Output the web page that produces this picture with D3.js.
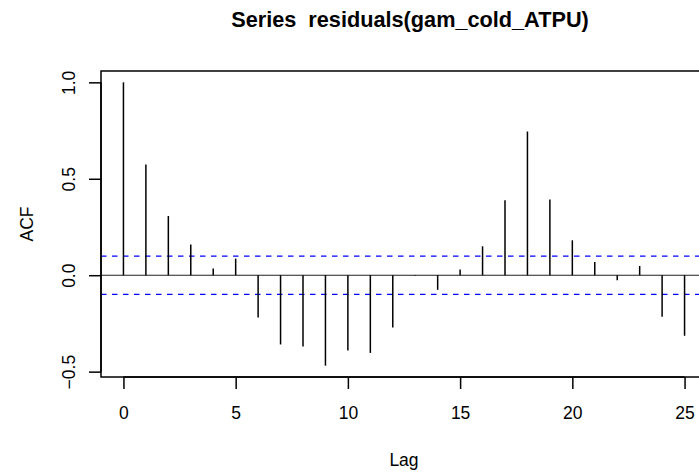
<!DOCTYPE html>
<html>
<head>
<meta charset="utf-8">
<script src="https://cdn.jsdelivr.net/npm/d3@7"></script>
<style>
  html, body { margin: 0; padding: 0; background: #fff; overflow: hidden; }
  svg { display: block; }
  text { font-family: "Liberation Sans", Arial, Helvetica, sans-serif; fill: #000; white-space: pre; }
</style>
</head>
<body>
<svg id="chart" width="699" height="475"></svg>
<script>
// ---- data ----
const lags = [0,1,2,3,4,5,6,7,8,9,10,11,12,13,14,15,16,17,18,19,20,21,22,23,24,25];
const acfValues = [1.000, 0.574, 0.307, 0.159, 0.035, 0.086, -0.219, -0.359, -0.369, -0.469,
                   -0.391, -0.403, -0.271, -0.003, -0.076, 0.029, 0.150, 0.388, 0.745, 0.393,
                   0.181, 0.069, -0.026, 0.048, -0.216, -0.314];
const ciBound = 0.099;
const xTicks = [0, 5, 10, 15, 20, 25];
const yTicks = [-0.5, 0.0, 0.5, 1.0];
const yTickLabels = ["\u22120.5", "0.0", "0.5", "1.0"];
const titleText = "Series  residuals(gam_cold_ATPU)";
const xLabel = "Lag";
const yLabel = "ACF";

// ---- layout ----
const plot = { left: 101, top: 71, right: 707, bottom: 377 };
const svg = d3.select("#chart");

const xMin = d3.min(lags), xMax = d3.max(lags);
const xPad = (xMax - xMin) * 0.04;
const x = d3.scaleLinear().domain([xMin - xPad, xMax + xPad]).range([plot.left, plot.right]);

const yLo = Math.min(d3.min(acfValues), -ciBound), yHi = Math.max(d3.max(acfValues), ciBound);
const yPad = (yHi - yLo) * 0.04;
const y = d3.scaleLinear().domain([yLo - yPad, yHi + yPad]).range([plot.bottom, plot.top]);

const fs = 17.5;

// zero line
svg.append("line")
  .attr("x1", plot.left).attr("x2", plot.right)
  .attr("y1", y(0)).attr("y2", y(0))
  .attr("stroke", "#222").attr("stroke-width", 1.1);

// confidence lines
[ciBound, -ciBound].forEach(v => {
  svg.append("line")
    .attr("x1", plot.left).attr("x2", plot.right)
    .attr("y1", y(v)).attr("y2", y(v))
    .attr("stroke", "#0000ff").attr("stroke-width", 1.3)
    .attr("stroke-dasharray", "5.5,5.5");
});

// spikes
svg.append("g").selectAll("line").data(lags).join("line")
  .attr("x1", d => x(d)).attr("x2", d => x(d))
  .attr("y1", y(0)).attr("y2", (d, i) => y(acfValues[i]))
  .attr("stroke", "#000").attr("stroke-width", 1.5);

// box
svg.append("rect")
  .attr("x", plot.left).attr("y", plot.top)
  .attr("width", plot.right - plot.left).attr("height", plot.bottom - plot.top)
  .attr("fill", "none").attr("stroke", "#000").attr("stroke-width", 1.5);

// x axis
const xAxis = d3.axisBottom(x).tickValues(xTicks).tickSize(12).tickPadding(6).tickFormat(d3.format("d"));
const gx = svg.append("g").attr("transform", `translate(0,${plot.bottom})`).call(xAxis);
gx.select(".domain").attr("d", `M${x(xTicks[0])},0H${x(xTicks[xTicks.length-1])}`)
  .attr("stroke", "#000").attr("stroke-width", 1.5);
gx.selectAll(".tick line").attr("stroke", "#000").attr("stroke-width", 1.5);
gx.selectAll(".tick text").attr("font-size", fs).attr("font-family", "Liberation Sans, Arial, sans-serif")
  .attr("y", 0).attr("dy", 0).attr("transform", "translate(0,42)").attr("fill", "#000");

// y axis
const yAxis = d3.axisLeft(y).tickValues(yTicks).tickSize(12).tickFormat((d, i) => yTickLabels[i]);
const gy = svg.append("g").attr("transform", `translate(${plot.left},0)`).call(yAxis);
gy.select(".domain").attr("d", `M0,${y(yTicks[0])}V${y(yTicks[yTicks.length-1])}`)
  .attr("stroke", "#000").attr("stroke-width", 1.5);
gy.selectAll(".tick line").attr("stroke", "#000").attr("stroke-width", 1.5);
gy.selectAll(".tick text")
  .attr("font-size", fs).attr("font-family", "Liberation Sans, Arial, sans-serif")
  .attr("x", 0).attr("dy", 0)
  .attr("text-anchor", "middle")
  .attr("transform", "translate(-26,0) rotate(-90)")
  .attr("fill", "#000");

// title
svg.append("text")
  .attr("x", 410).attr("y", 27)
  .attr("text-anchor", "middle").attr("font-weight", "bold").attr("font-size", 21.7)
  .attr("xml:space", "preserve")
  .text(titleText);

// x label
svg.append("text")
  .attr("x", (plot.left + plot.right) / 2).attr("y", 466)
  .attr("text-anchor", "middle").attr("font-size", fs)
  .text(xLabel);

// y label
svg.append("text")
  .attr("transform", `translate(33,${(plot.top + plot.bottom) / 2}) rotate(-90)`)
  .attr("text-anchor", "middle").attr("font-size", fs)
  .text(yLabel);
</script>
</body>
</html>
